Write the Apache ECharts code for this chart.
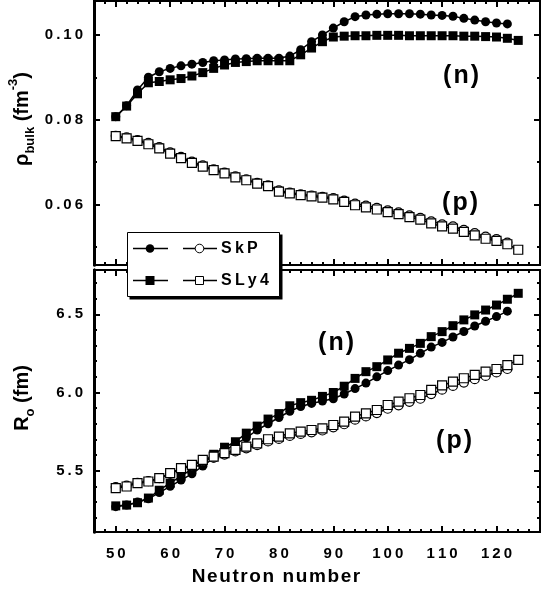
<!DOCTYPE html>
<html><head><meta charset="utf-8">
<script src="https://cdn.jsdelivr.net/npm/echarts@6/dist/echarts.min.js"></script>
<style>html,body{margin:0;padding:0;background:#fff}#c{width:543px;height:594px}</style>
</head><body><div id="c"></div>
<script>
// Neutron numbers
const N_SKP  = [50,52,54,56,58,60,62,64,66,68,70,72,74,76,78,80,82,84,86,88,90,92,94,96,98,100,102,104,106,108,110,112,114,116,118,120,122];
const N_SLY4 = [50,52,54,56,58,60,62,64,66,68,70,72,74,76,78,80,82,84,86,88,90,92,94,96,98,100,102,104,106,108,110,112,114,116,118,120,122,124];

// Top panel: bulk density (fm^-3)
const RHO_SKP_N  = [0.0807,0.0833,0.0870,0.0900,0.0913,0.0921,0.0927,0.0931,0.0935,0.0939,0.0941,0.0943,0.0944,0.0945,0.0945,0.0945,0.0950,0.0965,0.0984,0.1000,0.1016,0.1031,0.1043,0.1047,0.1049,0.1050,0.1050,0.1050,0.1049,0.1047,0.1046,0.1044,0.1039,0.1035,0.1031,0.1028,0.1026];
const RHO_SKP_P  = [0.0762,0.0758,0.0752,0.0745,0.0735,0.0723,0.0712,0.0701,0.0692,0.0683,0.0675,0.0666,0.0659,0.0651,0.0645,0.0633,0.0628,0.0624,0.0621,0.0618,0.0615,0.0609,0.0602,0.0597,0.0592,0.0586,0.0581,0.0574,0.0568,0.0560,0.0553,0.0548,0.0540,0.0532,0.0524,0.0518,0.0510];
const RHO_SLY4_N = [0.0807,0.0832,0.0861,0.0887,0.0890,0.0894,0.0897,0.0903,0.0911,0.0921,0.0929,0.0935,0.0937,0.0939,0.0939,0.0939,0.0939,0.0953,0.0969,0.0984,0.0995,0.0997,0.0998,0.0998,0.0999,0.0999,0.0999,0.0998,0.0998,0.0998,0.0998,0.0998,0.0997,0.0997,0.0996,0.0995,0.0992,0.0987];
const RHO_SLY4_P = [0.0761,0.0756,0.0750,0.0742,0.0732,0.0720,0.0709,0.0698,0.0689,0.0681,0.0673,0.0664,0.0657,0.0649,0.0643,0.0630,0.0626,0.0622,0.0619,0.0616,0.0612,0.0606,0.0598,0.0593,0.0588,0.0582,0.0577,0.0570,0.0564,0.0555,0.0548,0.0543,0.0535,0.0527,0.0519,0.0514,0.0506,0.0493];

// Bottom panel: radius R0 (fm)
const R_SKP_N  = [5.27,5.28,5.30,5.32,5.36,5.40,5.44,5.48,5.53,5.58,5.63,5.67,5.71,5.76,5.80,5.84,5.88,5.91,5.93,5.945,5.96,5.99,6.025,6.06,6.10,6.14,6.175,6.21,6.25,6.29,6.32,6.355,6.39,6.425,6.455,6.485,6.52];
const R_SKP_P  = [5.395,5.405,5.423,5.433,5.452,5.480,5.510,5.532,5.562,5.583,5.603,5.623,5.643,5.663,5.687,5.703,5.722,5.735,5.745,5.757,5.777,5.797,5.826,5.847,5.868,5.896,5.918,5.940,5.960,5.990,6.018,6.042,6.063,6.085,6.106,6.128,6.150];
const R_SLY4_N = [5.275,5.28,5.295,5.325,5.375,5.42,5.465,5.51,5.55,5.605,5.65,5.685,5.74,5.785,5.83,5.865,5.915,5.935,5.95,5.975,6.0,6.04,6.09,6.133,6.165,6.208,6.251,6.282,6.314,6.357,6.389,6.427,6.464,6.496,6.527,6.559,6.596,6.634];
const R_SLY4_P = [5.388,5.399,5.420,5.431,5.452,5.484,5.516,5.537,5.569,5.590,5.612,5.633,5.654,5.675,5.701,5.718,5.739,5.750,5.760,5.771,5.792,5.814,5.846,5.867,5.888,5.920,5.941,5.963,5.984,6.016,6.045,6.069,6.091,6.112,6.133,6.150,6.175,6.208];

// Ticks
const X_MAJOR = [50,60,70,80,90,100,110,120];
const X_MINOR = [46,48,52,54,56,58,62,64,66,68,72,74,76,78,82,84,86,88,92,94,96,98,102,104,106,108,112,114,116,118,122,124,126];
const Y1_MAJOR = [0.06,0.08,0.10];
const Y1_MINOR = [0.05,0.07,0.09];
const Y2_MAJOR = [5.5,6.0,6.5];
const Y2_MINOR = [5.2,5.3,5.4,5.6,5.7,5.8,5.9,6.1,6.2,6.3,6.4,6.6,6.7];

const FONT = '"Liberation Sans", Arial, sans-serif';
const sp = s => String(s).split('').join('\u2009');
const hsp = s => String(s).split('').join('\u200A');

const X_RANGE = [46, 128];
const Y1_RANGE = [0.0457, 0.1080];
const Y2_RANGE = [5.108, 6.783];

function xAx(grid, pos, ticks, len, labels) {
  return {
    type: 'value', gridIndex: grid, position: pos, min: X_RANGE[0], max: X_RANGE[1],
    axisLine: { show: true, onZero: false, lineStyle: { color: '#000', width: 2 } },
    axisTick: { show: true, inside: true, length: len, customValues: ticks, lineStyle: { color: '#000', width: 2 } },
    axisLabel: labels ? { show: true, customValues: X_MAJOR, margin: 14, color: '#000', fontFamily: FONT, fontWeight: 'bold', fontSize: 15, formatter: v => sp(v) } : { show: false },
    splitLine: { show: false }
  };
}
function yAx(grid, pos, range, ticks, len, labels, dec, lw) {
  return {
    type: 'value', gridIndex: grid, position: pos, min: range[0], max: range[1],
    axisLine: { show: true, onZero: false, lineStyle: { color: '#000', width: lw } },
    axisTick: { show: true, inside: true, length: len, customValues: ticks, lineStyle: { color: '#000', width: 2 } },
    axisLabel: labels ? { show: true, customValues: labels, margin: 11, color: '#000', fontFamily: FONT, fontWeight: 'bold', fontSize: 15, formatter: v => sp(Number(v).toFixed(dec)) } : { show: false },
    splitLine: { show: false }
  };
}

const xAxes = [
  xAx(0, 'bottom', X_MINOR, 3, false), xAx(0, 'bottom', X_MAJOR, 6, false),
  xAx(0, 'top', X_MINOR, 3, false), xAx(0, 'top', X_MAJOR, 6, false),
  xAx(1, 'bottom', X_MINOR, 3, false), xAx(1, 'bottom', X_MAJOR, 6, true),
  xAx(1, 'top', X_MINOR, 3, false), xAx(1, 'top', X_MAJOR, 6, false)
];
const yAxes = [
  yAx(0, 'left', Y1_RANGE, Y1_MINOR, 3, null, 2, 3), yAx(0, 'left', Y1_RANGE, Y1_MAJOR, 6, Y1_MAJOR, 2, 3),
  yAx(0, 'right', Y1_RANGE, Y1_MINOR, 3, null, 2, 2), yAx(0, 'right', Y1_RANGE, Y1_MAJOR, 6, null, 2, 2),
  yAx(1, 'left', Y2_RANGE, Y2_MINOR, 3, null, 1, 3), yAx(1, 'left', Y2_RANGE, Y2_MAJOR, 6, Y2_MAJOR, 1, 3),
  yAx(1, 'right', Y2_RANGE, Y2_MINOR, 3, null, 1, 2), yAx(1, 'right', Y2_RANGE, Y2_MAJOR, 6, null, 1, 2)
];

const zip = (xs, ys) => xs.map((x, i) => [x, ys[i]]);
function ser(name, xs, ys, panel, symbol, filled, size, z) {
  return {
    name, type: 'line', xAxisIndex: panel * 4, yAxisIndex: panel * 4,
    data: zip(xs, ys), symbol, symbolSize: size, showSymbol: true, z,
    lineStyle: { color: '#000', width: 1.5 },
    itemStyle: { color: filled ? '#000' : '#fff', borderColor: '#000', borderWidth: filled ? 0 : 1.2 },
    emphasis: { disabled: true }, animation: false, silent: true
  };
}

const series = [
  ser('SkP n', N_SKP, RHO_SKP_N, 0, 'circle', true, 9, 2),
  ser('SLy4 n', N_SLY4, RHO_SLY4_N, 0, 'rect', true, 9, 3),
  ser('SkP p', N_SKP, RHO_SKP_P, 0, 'circle', false, 9, 4),
  ser('SLy4 p', N_SLY4, RHO_SLY4_P, 0, 'rect', false, 9, 5),
  ser('SkP n', N_SKP, R_SKP_N, 1, 'circle', true, 9, 2),
  ser('SLy4 n', N_SLY4, R_SLY4_N, 1, 'rect', true, 9, 3),
  ser('SkP p', N_SKP, R_SKP_P, 1, 'circle', false, 9, 4),
  ser('SLy4 p', N_SLY4, R_SLY4_P, 1, 'rect', false, 9, 5)
];

const bold = (extra) => Object.assign({ fontFamily: FONT, fontWeight: 'bold', fill: '#000' }, extra);
const graphic = [
  // panel labels
  { type: 'text', left: 443, top: 64, z: 50, style: bold({ text: hsp('(n)'), fontSize: 25 }) },
  { type: 'text', left: 442, top: 191, z: 50, style: bold({ text: hsp('(p)'), fontSize: 25 }) },
  { type: 'text', left: 318, top: 331, z: 50, style: bold({ text: hsp('(n)'), fontSize: 25 }) },
  { type: 'text', left: 436, top: 429, z: 50, style: bold({ text: hsp('(p)'), fontSize: 25 }) },
  // x axis title
  { type: 'text', x: 276, y: 577, z: 50, style: bold({ text: hsp('Neutron number'), fontSize: 19, align: 'center', verticalAlign: 'middle' }) },
  // y axis titles (rotated)
  { type: 'text', x: 22, y: 119, rotation: Math.PI / 2, z: 50,
    style: { text: '{a|ρ}{sub|bulk}{a| (fm}{sup|-3}{a|)}', align: 'center', verticalAlign: 'middle',
      rich: { a: { fontFamily: FONT, fontWeight: 'bold', fontSize: 20, lineHeight: 30, verticalAlign: 'middle', fill: '#000' },
              sub: { fontFamily: FONT, fontWeight: 'bold', fontSize: 13, lineHeight: 30, verticalAlign: 'bottom', fill: '#000' },
              sup: { fontFamily: FONT, fontWeight: 'bold', fontSize: 13, lineHeight: 30, verticalAlign: 'top', fill: '#000' } } } },
  { type: 'text', x: 22, y: 398, rotation: Math.PI / 2, z: 50,
    style: { text: '{a|R}{sub|o}{a| (fm)}', align: 'center', verticalAlign: 'middle',
      rich: { a: { fontFamily: FONT, fontWeight: 'bold', fontSize: 20, lineHeight: 30, verticalAlign: 'middle', fill: '#000' },
              sub: { fontFamily: FONT, fontWeight: 'bold', fontSize: 13, lineHeight: 30, verticalAlign: 'bottom', fill: '#000' } } } },
  // legend box with shadow
  { type: 'rect', z: 60, shape: { x: 129.5, y: 234.5, width: 153, height: 65 }, style: { fill: '#000' } },
  { type: 'rect', z: 61, shape: { x: 127.5, y: 232.5, width: 152, height: 64 }, style: { fill: '#fff', stroke: '#000', lineWidth: 1 } },
  // legend row 1 (SkP)
  { type: 'line', z: 62, shape: { x1: 133, y1: 248.5, x2: 168, y2: 248.5 }, style: { stroke: '#000', lineWidth: 1.5 } },
  { type: 'circle', z: 63, shape: { cx: 150, cy: 248.5, r: 4.3 }, style: { fill: '#000' } },
  { type: 'line', z: 62, shape: { x1: 183, y1: 248.5, x2: 217, y2: 248.5 }, style: { stroke: '#000', lineWidth: 1.5 } },
  { type: 'circle', z: 63, shape: { cx: 199.5, cy: 248.5, r: 4.3 }, style: { fill: '#fff', stroke: '#000', lineWidth: 1 } },
  { type: 'text', z: 63, x: 221, y: 248.5, style: bold({ text: sp('SkP'), fontSize: 16, verticalAlign: 'middle' }) },
  // legend row 2 (SLy4)
  { type: 'line', z: 62, shape: { x1: 133, y1: 280.5, x2: 168, y2: 280.5 }, style: { stroke: '#000', lineWidth: 1.5 } },
  { type: 'rect', z: 63, shape: { x: 145.5, y: 276, width: 9, height: 9 }, style: { fill: '#000' } },
  { type: 'line', z: 62, shape: { x1: 183, y1: 280.5, x2: 217, y2: 280.5 }, style: { stroke: '#000', lineWidth: 1.5 } },
  { type: 'rect', z: 63, shape: { x: 195.5, y: 276.5, width: 8, height: 8 }, style: { fill: '#fff', stroke: '#000', lineWidth: 1 } },
  { type: 'text', z: 63, x: 221, y: 280.5, style: bold({ text: sp('SLy4'), fontSize: 16, verticalAlign: 'middle' }) }
];

const chart = echarts.init(document.getElementById('c'), null, { renderer: 'canvas' });
chart.setOption({
  animation: false,
  backgroundColor: '#fff',
  grid: [
    { left: 94, right: 3, top: 1, height: 264 },
    { left: 94, right: 3, top: 270, height: 262 }
  ],
  xAxis: xAxes,
  yAxis: yAxes,
  series,
  graphic
});
</script>
</body></html>
